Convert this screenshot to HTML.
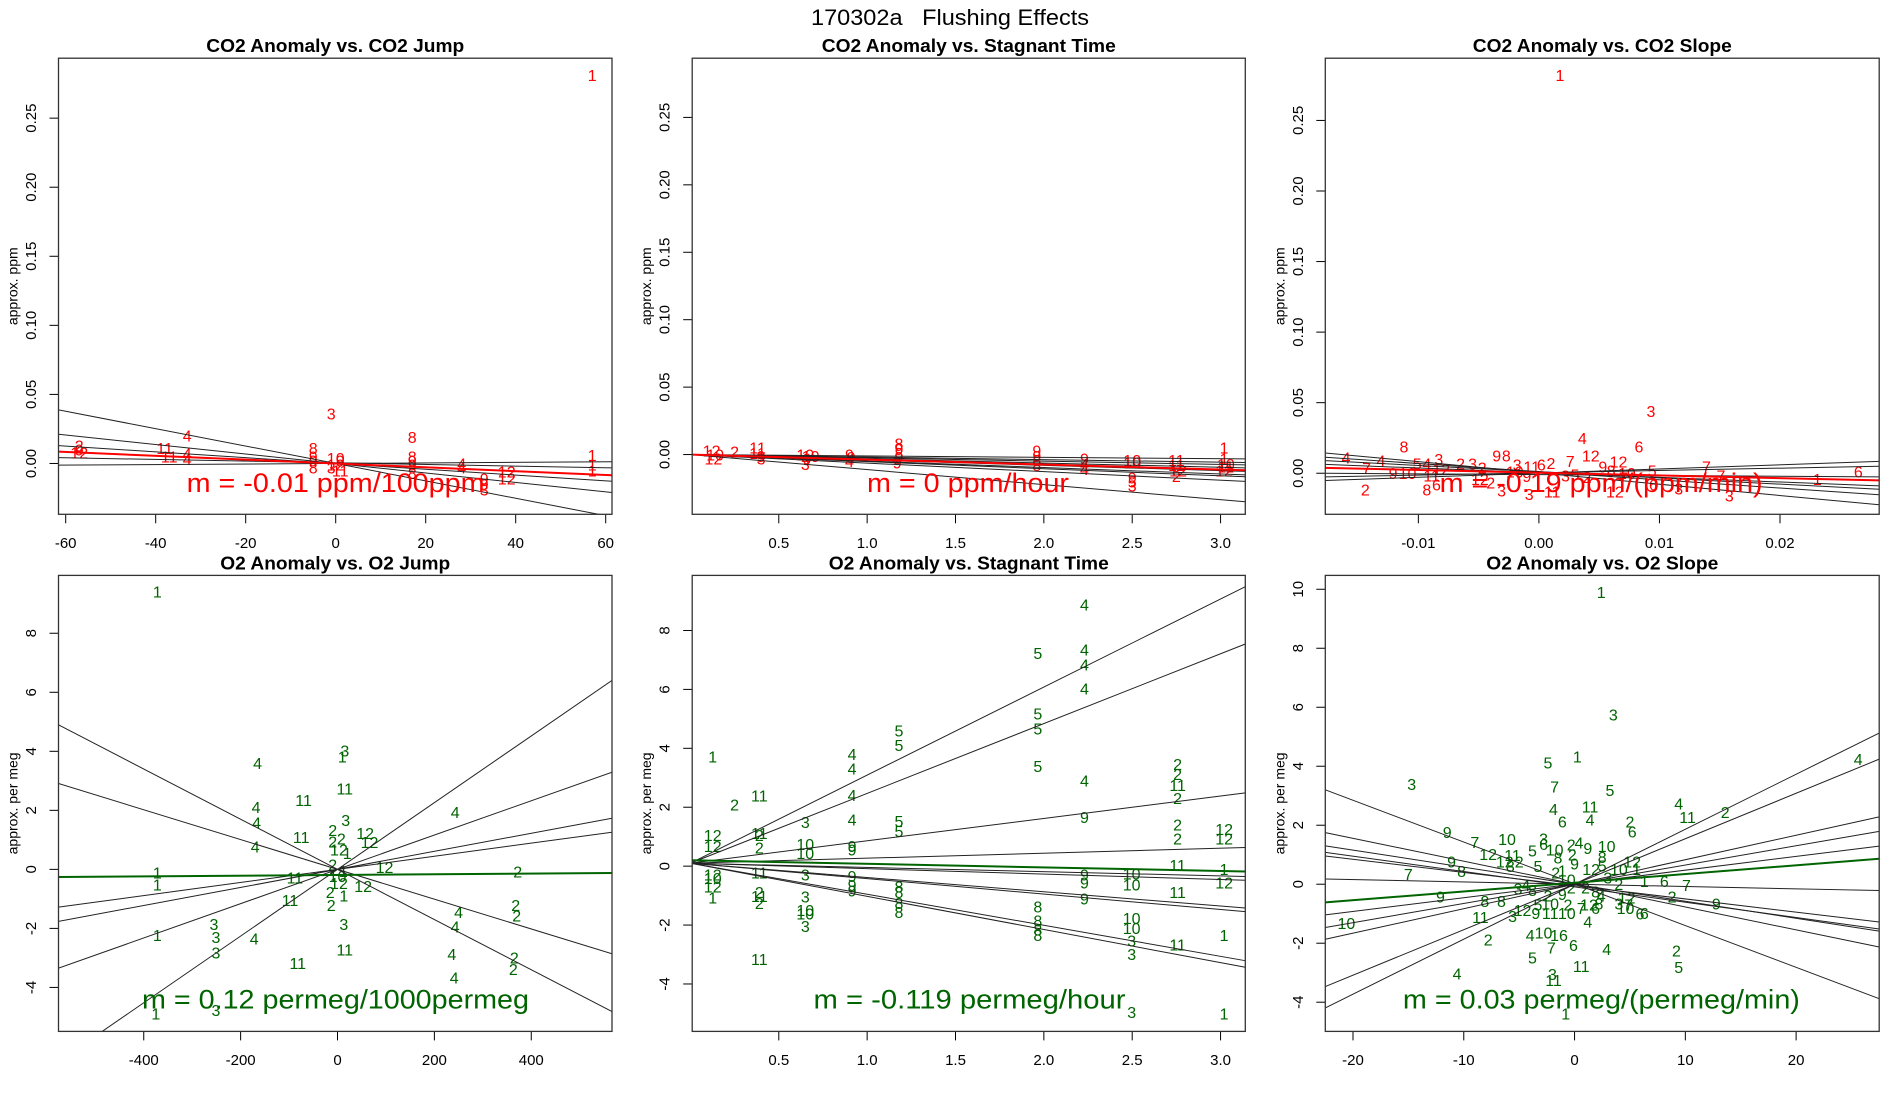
<!DOCTYPE html>
<html>
<head>
<meta charset="utf-8">
<style>
html,body{margin:0;padding:0;background:#fff;}
svg{display:block;}
text{font-family:"Liberation Sans",sans-serif;}
</style>
</head>
<body>
<svg id="chart" width="1900" height="1100" viewBox="0 0 1900 1100" xmlns="http://www.w3.org/2000/svg">
<rect x="0" y="0" width="1900" height="1100" fill="#fff"/>
<text x="950" y="25" font-size="22" text-anchor="middle" style="white-space:pre" textLength="278" lengthAdjust="spacingAndGlyphs">170302a   Flushing Effects</text>
</svg>
<script>
// ---------- Panel 1: CO2 Anomaly vs. CO2 Jump ----------
const p1Labels = ['1','3','8','4','2','9','12','11','11','4','4','8','9','9','8','10','9','12','3','11','8','9','9','8','4','4','12','12','9','9','3','1','1','1'];
const p1X = [57,-1,17,-33,-57,-57,-57,-38,-37,-33,-33,-5,-5,-5,-5,0,1,0,-1,1,17,17,17,17,28,28,38,38,33,33,33,57,57,57];
const p1Y = [0.28,0.035,0.018,0.019,0.012,0.009,0.007,0.01,0.004,0.006,0.002,0.01,0.004,0.001,-0.004,0.003,0.001,-0.002,-0.004,-0.006,0.004,0.001,-0.002,-0.008,-0.001,-0.004,-0.007,-0.012,-0.012,-0.016,-0.02,0.005,-0.002,-0.006];
const p1Slopes = [-0.00063,-0.000343,-0.00021,-0.00006,0.00002];
const p1Intercepts = [0,0,0,0.0005,0];
const p1FitSlope = -0.000139;
const p1FitIntercept = 0;
const p1XTicks = [-60,-40,-20,0,20,40,60];
const p1YTicks = [0,0.05,0.10,0.15,0.20,0.25];
const p1YTickLabels = ['0.00','0.05','0.10','0.15','0.20','0.25'];

// ---------- Panel 2: CO2 Anomaly vs. Stagnant Time ----------
const p2Labels = ['12','10','12','2','11','11','9','3','10','9','3','10','9','9','4','8','9','8','9','9','9','9','8','8','9','4','4','10','10','9','5','3','11','11','12','2','1','1','10','12','11'];
const p2X = [0.12,0.14,0.13,0.25,0.38,0.38,0.4,0.4,0.65,0.66,0.65,0.68,0.9,0.91,0.9,1.18,1.18,1.18,1.18,1.17,1.96,1.96,1.96,1.96,2.23,2.23,2.23,2.5,2.5,2.5,2.5,2.5,2.75,2.75,2.76,2.75,3.02,3.02,3.03,3.02,3.03];
const p2Y = [0.002,-0.001,-0.004,0.001,0.004,0,-0.002,-0.004,-0.001,-0.004,-0.008,-0.002,-0.001,-0.003,-0.006,0.007,0.003,0,-0.003,-0.007,0.002,-0.002,-0.005,-0.009,-0.004,-0.008,-0.012,-0.005,-0.007,-0.018,-0.021,-0.024,-0.005,-0.009,-0.013,-0.017,0.004,-0.004,-0.008,-0.013,-0.01];
const p2Slopes = [-0.00102,-0.00188,-0.00245,-0.00315,-0.00398,-0.00481,-0.00525,-0.00634,-0.01115];
const p2Intercepts = [0,0,0,0,0,0,0,0,0];
const p2FitSlope = -0.0037;
const p2FitIntercept = 0;
const p2XTicks = [0.5,1.0,1.5,2.0,2.5,3.0];
const p2XTickLabels = ['0.5','1.0','1.5','2.0','2.5','3.0'];

// ---------- Panel 3: CO2 Anomaly vs. CO2 Slope ----------
const p3Labels = ['1','3','4','6','8','4','4','2','7','9','10','5','4','8','6','11','3','12','2','3','2','12','2','9','8','3','3','3','11','6','2','11','7','3','12','2','9','12','12','10','5','6','3','7','7','3','1','6','10','9','5','8','7'];
const p3X = [0.00175,0.0093,0.0036,0.0083,-0.0112,-0.016,-0.0131,-0.0144,-0.0143,-0.0121,-0.0109,-0.0101,-0.0093,-0.0093,-0.0085,-0.0089,-0.0083,-0.0081,-0.0065,-0.0055,-0.0047,-0.0049,-0.0040,-0.0035,-0.0027,-0.0031,-0.0018,-0.0008,-0.0006,0.0002,0.0010,0.0011,0.0026,0.0022,0.0043,0.0040,0.0053,0.0066,0.0063,0.0073,0.0094,0.0095,0.0116,0.0139,0.0151,0.0158,0.0231,0.0265,-0.002,-0.001,0.003,0.006,0.007];
const p3Y = [0.281,0.043,0.024,0.018,0.018,0.010,0.008,-0.0127,0.0025,-0.001,-0.001,0.006,0.006,-0.0127,-0.009,-0.0025,0.009,0.002,0.006,0.006,0.003,-0.0052,-0.0078,0.0114,0.0114,-0.0133,0.0051,-0.0158,0.0038,0.0051,0.0063,-0.014,0.0076,-0.0025,0.0114,-0.0038,0.0038,0.0071,-0.014,-0.001,0.0008,-0.009,-0.012,0.0038,-0.0025,-0.017,-0.0051,0,0,-0.003,-0.002,0.001,-0.004];
const p3Slopes = [-0.799,-0.579,-0.442,-0.331,0.165,0.294,-0.057];
const p3Intercepts = [0.0002,0.0011,0.0011,0.0004,0.0003,0.0001,-0.001];
const p3FitSlope = -0.194;
const p3FitIntercept = 0.0004;
const p3XTicks = [-0.01,0,0.01,0.02];
const p3XTickLabels = ['-0.01','0.00','0.01','0.02'];

// ---------- Panel 4: O2 Anomaly vs. O2 Jump ----------
const p4Labels = ['1','3','1','4','11','11','4','4','4','11','3','2','2','2','12','1','12','12','4','12','2','1','10','11','12','12','2','1','2','11','1','1','2','2','2','4','4','3','3','3','3','4','1','11','11','4','2','2','4','1','3'];
const p4X = [-372,15,10,-165,15,-70,-168,-167,-170,-75,17,-10,8,-10,3,20,57,66,243,97,-10,12,0,-88,3,53,-15,13,-13,-98,-372,-372,372,368,370,250,243,13,-255,-251,-251,-172,-372,15,-82,236,365,363,241,-375,-251];
const p4Y = [9.37,3.98,3.77,3.56,2.69,2.30,2.06,1.54,0.73,1.05,1.63,1.29,0.99,0.89,0.63,0.51,1.18,0.87,1.90,0.03,0.12,-0.1,-0.28,-0.32,-0.52,-0.61,-0.82,-0.94,-1.25,-1.09,-0.16,-0.56,-0.12,-1.25,-1.61,-1.49,-1.98,-1.91,-1.91,-2.34,-2.86,-2.40,-2.28,-2.76,-3.22,-2.91,-3.03,-3.43,-3.71,-4.94,-4.82];
const p4Slopes = [-0.0085,-0.00505,0.00222,0.00306,0.00581,0.0113];
const p4Intercepts = [0,0,0,0,0,0];
const p4FitSlope = 0.00012;
const p4FitIntercept = -0.19;
const p4XTicks = [-400,-200,0,200,400];
const p4YTicks = [-4,-2,0,2,4,6,8];

// ---------- Panel 5: O2 Anomaly vs. Stagnant Time ----------
const p5Labels = ['1','12','12','12','10','12','1','2','11','11','2','2','11','2','11','2','11','3','10','10','3','3','10','10','3','4','4','4','4','9','9','9','9','9','5','5','5','5','8','8','8','8','5','5','5','5','8','8','8','8','4','4','4','4','4','9','9','9','9','10','10','10','10','3','3','3','2','2','11','2','2','2','11','11','11','12','12','1','12','1','1'];
const p5X = [0.126,0.126,0.126,0.126,0.126,0.126,0.126,0.25,0.39,0.39,0.39,0.39,0.39,0.39,0.39,0.39,0.39,0.65,0.65,0.65,0.65,0.65,0.65,0.65,0.65,0.915,0.915,0.915,0.915,0.915,0.915,0.915,0.915,0.915,1.18,1.18,1.18,1.18,1.18,1.18,1.18,1.18,1.966,1.966,1.966,1.966,1.966,1.966,1.966,1.966,2.23,2.23,2.23,2.23,2.23,2.23,2.23,2.23,2.23,2.497,2.497,2.497,2.497,2.497,2.497,2.497,2.757,2.757,2.757,2.757,2.757,2.757,2.757,2.757,2.757,3.02,3.02,3.02,3.02,3.02,3.02];
const p5Y = [3.67,1.00,0.64,-0.33,-0.45,-0.75,-1.11,2.04,2.34,1.07,1.0,0.58,-0.27,-0.93,-1.06,-1.30,-3.21,1.45,0.70,0.40,-0.33,-1.08,-1.54,-1.66,-2.08,3.75,3.27,2.36,1.53,0.64,0.52,-0.39,-0.69,-0.87,4.55,4.06,1.49,1.15,-0.75,-0.93,-1.30,-1.60,7.19,5.13,4.62,3.35,-1.42,-1.90,-2.20,-2.39,8.83,7.31,6.79,5.98,2.86,1.62,-0.33,-0.60,-1.15,-0.30,-0.67,-1.81,-2.15,-2.58,-3.03,-5.0,3.41,3.07,2.71,2.26,1.37,0.89,-0.02,-0.93,-2.71,1.21,0.89,-0.14,-0.60,-2.39,-5.05];
const p5Slopes = [2.99,2.37,0.76,0.17,-0.144,-0.185,-0.485,-0.524,-1.054,-1.125];
const p5Intercepts = [0.1,0.1,0.1,0.1,0.1,0.1,0.1,0.1,0.1,0.1];
const p5FitSlope = -0.121;
const p5FitIntercept = 0.2;
const p5XTicks = [0.5,1.0,1.5,2.0,2.5,3.0];

// ---------- Panel 6: O2 Anomaly vs. O2 Slope ----------
const p6Labels = ['1','3','3','5','1','7','5','4','6','11','4','2','6','4','11','2','4','9','7','10','12','12','11','2','8','5','3','6','10','8','2','4','9','10','2','9','8','12','5','10','12','1','5','2','1','10','9','8','7','1','6','7','3','2','4','3','8','2','2','8','9','2','9','8','8','4','12','2','9','5','10','2','12','8','3','7','10','12','9','11','10','7','6','6','6','11','3','10','4','4','10','16','2','7','6','4','2','5','5','11','4','3','11','1'];
const p6X = [2.4,3.5,-14.7,-2.4,0.25,-1.8,3.2,-1.9,-1.1,1.4,1.4,5.0,5.2,9.4,10.2,13.6,25.6,-11.5,-9.0,-6.1,-7.8,-6.3,-5.6,-5.0,-5.8,-3.8,-2.8,-2.8,-1.8,-1.5,-0.3,0.4,1.2,2.9,-0.2,0,2.5,1.5,2.5,4.0,5.2,5.6,-3.3,-1.7,-1.1,-0.7,-11.1,-10.2,-15,6.3,8.1,10.1,3.0,4.0,-4.4,-5.1,-3.8,-0.3,1.0,1.9,-1.1,-2.4,-12.1,-8.1,-6.6,2.4,4.7,8.8,12.8,-3.3,-2.2,-0.6,1.3,2.2,4.0,4.9,4.6,-4.7,-3.5,-2.2,-0.7,0.6,1.9,5.9,6.3,-8.5,-5.6,-20.6,1.2,-4.0,-2.8,-1.4,-7.8,-2.1,-0.1,2.9,9.2,9.4,-3.8,0.6,-10.6,-2.0,-1.9,-0.8];
const p6Y = [9.85,5.71,3.34,4.07,4.28,3.26,3.14,2.5,2.07,2.59,2.14,2.07,1.74,2.69,2.23,2.39,4.2,1.72,1.38,1.48,0.98,0.72,0.94,0.72,0.56,1.10,1.50,1.32,1.12,0.86,1.29,1.36,1.17,1.24,0.96,0.66,0.87,0.47,0.59,0.47,0.72,0.47,0.57,0.35,0.41,0.11,0.72,0.39,0.29,0.05,0.05,-0.07,0.17,-0.05,-0.07,-0.19,-0.25,-0.17,-0.17,-0.29,-0.38,-0.44,-0.47,-0.62,-0.62,-0.44,-0.50,-0.47,-0.70,-0.74,-0.70,-0.74,-0.74,-0.70,-0.70,-0.74,-0.86,-0.92,-1.02,-1.02,-1.02,-0.86,-0.86,-1.04,-1.02,-1.17,-1.13,-1.37,-1.32,-1.77,-1.68,-1.77,-1.92,-2.19,-2.11,-2.25,-2.29,-2.86,-2.53,-2.83,-3.07,-3.09,-3.30,-4.43];
const p6Slopes = [-0.1416,-0.0776,-0.0578,-0.052,-0.0448,-0.0078,0.0466,0.0652,0.083,0.1542,0.1864];
const p6Intercepts = [0.014,0.004,0,-0.09,-0.05,0,0.01,0,0,0,0];
const p6FitSlope = 0.0296;
const p6FitIntercept = 0.05;
const p6XTicks = [-20,-10,0,10,20];
const p6YTicks = [-4,-2,0,2,4,6,8,10];

const NS = 'http://www.w3.org/2000/svg';
const svg = document.getElementById('chart');

function mk(tag, attrs, parent) {
  const e = document.createElementNS(NS, tag);
  for (const k in attrs) e.setAttribute(k, attrs[k]);
  (parent || svg).appendChild(e);
  return e;
}

function drawPanel(cfg) {
  const g = mk('g', {});
  
  
  const L = cfg.box[0], R = cfg.box[1], T = cfg.box[2], B = cfg.box[3];
  const sx = v => L + (v - cfg.xlim[0]) / (cfg.xlim[1] - cfg.xlim[0]) * (R - L);
  const sy = v => B - (v - cfg.ylim[0]) / (cfg.ylim[1] - cfg.ylim[0]) * (B - T);
  const cid = 'clip-' + cfg.name;
  const cp = mk('clipPath', {id: cid}, g);
  mk('rect', {x: L, y: T, width: R - L, height: B - T}, cp);

  const t = mk('text', {x: (L + R) / 2, y: T - 6, 'font-size': 18, 'font-weight': 'bold', 'text-anchor': 'middle', textLength: cfg.titleW, lengthAdjust: 'spacingAndGlyphs'}, g);
  t.textContent = cfg.title;
  
  

  const yl = mk('text', {x: 0, y: 0, 'font-size': 14, 'text-anchor': 'middle', 'dominant-baseline': 'central', transform: 'translate(' + (L - 46) + ',' + ((T + B) / 2) + ') rotate(-90)'}, g);
  yl.textContent = cfg.ylabel;
  
  

  cfg.xticks.forEach((v, i) => {
    const x = sx(v);
    const tk = mk('line', {x1: x, x2: x, y1: B, y2: B + 9, stroke: '#000', 'stroke-width': 1}, g);
    
    
    const lb = mk('text', {x: x, y: B + 29, 'font-size': 15, 'text-anchor': 'middle', 'dominant-baseline': 'central'}, g);
    lb.textContent = cfg.xtickLabels ? cfg.xtickLabels[i] : String(v);
    
    
  });
  cfg.yticks.forEach((v, i) => {
    const y = sy(v);
    const tk = mk('line', {x1: L - 9, x2: L, y1: y, y2: y, stroke: '#000', 'stroke-width': 1}, g);
    
    
    const lb = mk('text', {x: 0, y: 0, 'font-size': 15, 'text-anchor': 'middle', 'dominant-baseline': 'central', transform: 'translate(' + (L - 27) + ',' + y + ') rotate(-90)'}, g);
    lb.textContent = cfg.ytickLabels ? cfg.ytickLabels[i] : String(v);
    
    
  });

  const inner = mk('g', {'clip-path': 'url(#' + cid + ')'}, g);
  
  

  cfg.px.forEach((xv, i) => {
    const tx = mk('text', {x: sx(xv), y: sy(cfg.py[i]), 'font-size': 16, 'text-anchor': 'middle', 'dominant-baseline': 'central', fill: cfg.color}, inner);
    tx.textContent = cfg.plabels[i];
    
    
  });
  const x0 = cfg.lineX0 !== undefined ? cfg.lineX0 : cfg.xlim[0];
  const x1 = cfg.xlim[1];
  cfg.slopes.forEach((b, i) => {
    const a = cfg.intercepts[i];
    const ln = mk('line', {x1: sx(x0), y1: sy(a + b * x0), x2: sx(x1), y2: sy(a + b * x1), stroke: '#222', 'stroke-width': 1}, inner);
    
    
  });
  const fl = mk('line', {x1: sx(cfg.xlim[0]), y1: sy(cfg.fitA + cfg.fitB * cfg.xlim[0]), x2: sx(x1), y2: sy(cfg.fitA + cfg.fitB * x1), stroke: cfg.color, 'stroke-width': 2}, inner);
  
  

  const an = mk('text', {x: cfg.ann[0], y: cfg.ann[1], 'font-size': 27, fill: cfg.color, textLength: cfg.ann[2], lengthAdjust: 'spacingAndGlyphs'}, g);
  an.textContent = cfg.annText;
  
  

  const bx = mk('rect', {x: L, y: T, width: R - L, height: B - T, fill: 'none', stroke: '#333', 'stroke-width': 1.3}, g);
  
  
}

const cols = [[58.5, 612], [692.2, 1245.3], [1325.3, 1879.2]];
const rows = [[58.2, 514.3], [575.4, 1031.4]];
const RED = '#ff0000', GREEN = '#006400';

drawPanel({name: 'panel-co2-jump', box: [cols[0][0], cols[0][1], rows[0][0], rows[0][1]], xlim: [-61.6, 61.4], ylim: [-0.0368, 0.2934],
  title: 'CO2 Anomaly vs. CO2 Jump', titleW: 258, ylabel: 'approx. ppm', xticks: p1XTicks, yticks: p1YTicks, ytickLabels: p1YTickLabels,
  px: p1X, py: p1Y, plabels: p1Labels, slopes: p1Slopes, intercepts: p1Intercepts, fitA: p1FitIntercept, fitB: p1FitSlope, color: RED,
  ann: [186.6, 492, 298], annText: 'm = -0.01 ppm/100ppm'});
drawPanel({name: 'panel-co2-stagnant', box: [cols[1][0], cols[1][1], rows[0][0], rows[0][1]], xlim: [0.01, 3.14], ylim: [-0.0443, 0.2939],
  title: 'CO2 Anomaly vs. Stagnant Time', titleW: 294, ylabel: 'approx. ppm', xticks: p2XTicks, xtickLabels: p2XTickLabels, yticks: p1YTicks, ytickLabels: p1YTickLabels,
  px: p2X, py: p2Y, plabels: p2Labels, slopes: p2Slopes, intercepts: p2Intercepts, fitA: p2FitIntercept, fitB: p2FitSlope, color: RED, lineX0: 0.02,
  ann: [867, 492, 202], annText: 'm = 0 ppm/hour'});
drawPanel({name: 'panel-co2-slope', box: [cols[2][0], cols[2][1], rows[0][0], rows[0][1]], xlim: [-0.01772, 0.02823], ylim: [-0.0291, 0.2941],
  title: 'CO2 Anomaly vs. CO2 Slope', titleW: 259, ylabel: 'approx. ppm', xticks: p3XTicks, xtickLabels: p3XTickLabels, yticks: p1YTicks, ytickLabels: p1YTickLabels,
  px: p3X, py: p3Y, plabels: p3Labels, slopes: p3Slopes, intercepts: p3Intercepts, fitA: p3FitIntercept, fitB: p3FitSlope, color: RED,
  ann: [1439.6, 492, 323], annText: 'm = -0.19 ppm/(ppm/min)'});
drawPanel({name: 'panel-o2-jump', box: [cols[0][0], cols[0][1], rows[1][0], rows[1][1]], xlim: [-576, 566.7], ylim: [-5.49, 9.96],
  title: 'O2 Anomaly vs. O2 Jump', titleW: 230, ylabel: 'approx. per meg', xticks: p4XTicks, yticks: p4YTicks,
  px: p4X, py: p4Y, plabels: p4Labels, slopes: p4Slopes, intercepts: p4Intercepts, fitA: p4FitIntercept, fitB: p4FitSlope, color: GREEN,
  ann: [142, 1008.6, 387], annText: 'm = 0.12 permeg/1000permeg'});
drawPanel({name: 'panel-o2-stagnant', box: [cols[1][0], cols[1][1], rows[1][0], rows[1][1]], xlim: [0.01, 3.14], ylim: [-5.61, 9.87],
  title: 'O2 Anomaly vs. Stagnant Time', titleW: 280, ylabel: 'approx. per meg', xticks: p5XTicks, xtickLabels: p2XTickLabels, yticks: p4YTicks,
  px: p5X, py: p5Y, plabels: p5Labels, slopes: p5Slopes, intercepts: p5Intercepts, fitA: p5FitIntercept, fitB: p5FitSlope, color: GREEN,
  ann: [813.5, 1008.6, 312], annText: 'm = -0.119 permeg/hour'});
drawPanel({name: 'panel-o2-slope', box: [cols[2][0], cols[2][1], rows[1][0], rows[1][1]], xlim: [-22.5, 27.5], ylim: [-4.99, 10.47],
  title: 'O2 Anomaly vs. O2 Slope', titleW: 232, ylabel: 'approx. per meg', xticks: p6XTicks, yticks: p6YTicks,
  px: p6X, py: p6Y, plabels: p6Labels, slopes: p6Slopes, intercepts: p6Intercepts, fitA: p6FitIntercept, fitB: p6FitSlope, color: GREEN,
  ann: [1402.9, 1008.6, 397], annText: 'm = 0.03 permeg/(permeg/min)'});
</script>
</body>
</html>
